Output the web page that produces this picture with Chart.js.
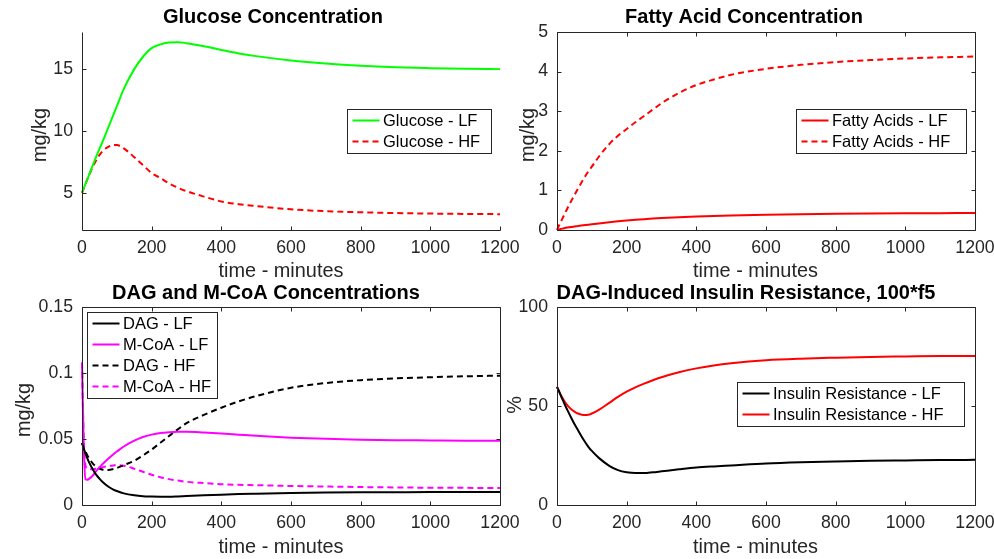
<!DOCTYPE html>
<html>
<head>
<meta charset="utf-8">
<script src="https://cdn.jsdelivr.net/npm/chart.js@4.4.0/dist/chart.umd.min.js"></script>
<style>
html,body{margin:0;padding:0;background:#fff;}
#wrap{position:relative;width:994px;height:559px;overflow:hidden;background:#fff;}
#wrap canvas{position:absolute;left:0;top:0;}
</style>
</head>
<body>
<div id="wrap">
<canvas id="c1" width="994" height="559"></canvas>
<canvas id="c2" width="994" height="559"></canvas>
<canvas id="c3" width="994" height="559"></canvas>
<canvas id="c4" width="994" height="559"></canvas>
</div>
<script>
// ---------- data ----------
const timeMin = [0,5,10,15,20,30,40,50,60,75,90,100,120,150,175,200,225,250,275,300,350,400,450,500,600,700,800,900,1000,1100,1200];

const glucoseLF = [5.0,5.36,5.72,6.08,6.44,7.16,7.87,8.55,9.2,10.25,11.3,12.0,13.4,15.0,16.0,16.7,17.0,17.15,17.18,17.1,16.85,16.55,16.27,16.05,15.7,15.45,15.27,15.15,15.08,15.03,15.0];
const glucoseHF = [5.0,5.36,5.72,6.08,6.42,7.05,7.6,8.05,8.4,8.72,8.87,8.86,8.6,7.88,7.24,6.6,6.2,5.76,5.42,5.14,4.7,4.31,4.08,3.93,3.67,3.52,3.43,3.37,3.33,3.3,3.28];

const fattyLF = [0,0.012,0.024,0.035,0.045,0.062,0.076,0.088,0.1,0.118,0.135,0.146,0.167,0.197,0.22,0.24,0.258,0.274,0.288,0.3,0.322,0.34,0.355,0.367,0.386,0.4,0.41,0.417,0.422,0.426,0.43];
const fattyHF = [0,0.1,0.19,0.28,0.37,0.55,0.72,0.88,1.04,1.27,1.48,1.6,1.85,2.17,2.38,2.55,2.72,2.88,3.04,3.2,3.46,3.66,3.8,3.92,4.07,4.17,4.24,4.29,4.33,4.36,4.38];

const dagLF = [0.047,0.043,0.039,0.0355,0.0325,0.0275,0.0232,0.02,0.0172,0.014,0.0117,0.0106,0.0088,0.0073,0.0066,0.0064,0.0063,0.0063,0.0065,0.0068,0.0073,0.0078,0.0083,0.0086,0.0091,0.0094,0.0096,0.0097,0.0098,0.0098,0.0098];
const mcoaLF = [0.108,0.045,0.0195,0.0191,0.0198,0.022,0.0255,0.0285,0.0312,0.035,0.0385,0.0405,0.0443,0.0487,0.0515,0.0533,0.0545,0.0551,0.0554,0.0554,0.0549,0.0542,0.0533,0.0524,0.051,0.0501,0.0495,0.0491,0.0489,0.0487,0.0486];
const dagHF = [0.047,0.0435,0.0405,0.0378,0.0355,0.0318,0.0292,0.0275,0.0267,0.0265,0.0272,0.028,0.0302,0.0335,0.0375,0.042,0.0472,0.0523,0.0573,0.062,0.0683,0.0737,0.0785,0.0825,0.0888,0.0924,0.0946,0.0959,0.0968,0.0975,0.098];
const mcoaHF = [0.108,0.05,0.03,0.0275,0.027,0.027,0.0275,0.028,0.0287,0.0295,0.03,0.0302,0.0298,0.0275,0.0252,0.0229,0.021,0.0196,0.0185,0.0176,0.0166,0.0158,0.0153,0.015,0.0144,0.014,0.0136,0.0133,0.0131,0.013,0.0128];

const insulinLF = [59.7,57.7,55.6,53.6,51.6,47.9,44.3,40.9,37.9,33.3,29.4,27.3,23.8,19.8,17.6,16.5,16.1,16.1,16.5,17.0,18.0,18.9,19.5,20.0,21.0,21.6,22.0,22.3,22.5,22.7,22.8];
const insulinHF = [59.7,57.8,56.0,54.3,52.8,50.3,48.5,47.2,46.2,45.5,45.6,46.2,48.0,51.6,54.6,57.2,59.4,61.3,63.0,64.5,67.0,69.0,70.5,71.6,73.1,73.9,74.4,74.8,75.0,75.2,75.3];

// tick labels
const timeTicks = [0,200,400,600,800,1000,1200];
const glucoseTicks = [5,10,15];
const fattyTicks = [0,1,2,3,4,5];
const dagTicks = [0,0.05,0.1,0.15];
const insulinTicks = [0,50,100];

// ---------- styling ----------
const FONT = '"Liberation Sans", Arial, Helvetica, sans-serif';
const AX = '#262626';
const TICK_LEN = 4;
const decorCfg = {};

function series(label, values, color, dashed) {
  return {
    label: label,
    data: timeMin.map((t, i) => ({x: t, y: values[i]})),
    borderColor: color,
    backgroundColor: color,
    borderWidth: 2,
    borderDash: dashed ? [6, 4] : [],
    pointRadius: 0,
    cubicInterpolationMode: 'monotone',
    fill: false,
    clip: 4
  };
}

const decorPlugin = {
  id: 'decor',
  afterDraw(chart) {
    const d = decorCfg[chart.canvas.id];
    if (!d) return;
    const ctx = chart.ctx, a = chart.chartArea, xs = chart.scales.x, ys = chart.scales.y;
    ctx.save();
    const L = Math.round(a.left) + 0.5, R = Math.round(a.right) + 0.5;
    const T = Math.round(a.top) + 0.5, B = Math.round(a.bottom) + 0.5;
    ctx.strokeStyle = AX; ctx.lineWidth = 1; ctx.setLineDash([]);
    ctx.beginPath();
    if (d.box) {
      ctx.rect(L, T, R - L, B - T);
    } else {
      ctx.moveTo(L, T); ctx.lineTo(L, B); ctx.lineTo(R, B);
    }
    ctx.stroke();
    // inward ticks
    ctx.beginPath();
    xs.ticks.forEach(t => {
      const px = Math.round(xs.getPixelForValue(t.value)) + 0.5;
      ctx.moveTo(px, B); ctx.lineTo(px, B - TICK_LEN);
      if (d.box) { ctx.moveTo(px, T); ctx.lineTo(px, T + TICK_LEN); }
    });
    ys.ticks.forEach(t => {
      const py = Math.round(ys.getPixelForValue(t.value)) + 0.5;
      ctx.moveTo(L, py); ctx.lineTo(L + TICK_LEN, py);
      if (d.box) { ctx.moveTo(R, py); ctx.lineTo(R - TICK_LEN, py); }
    });
    ctx.stroke();
    // title
    ctx.fillStyle = '#000';
    ctx.font = 'bold 20px ' + FONT;
    ctx.textAlign = 'center'; ctx.textBaseline = 'alphabetic';
    ctx.fillText(d.title, d.titleX, d.titleY);
    // x label
    ctx.fillStyle = AX;
    ctx.font = '19.9px ' + FONT;
    ctx.fillText('time - minutes', d.xlabelX, d.xlabelY);
    // y label
    ctx.save();
    ctx.translate(d.ylabelX, d.ylabelY);
    ctx.rotate(-Math.PI / 2);
    ctx.fillText(d.ylabel, 0, 0);
    ctx.restore();
    // legend
    const lg = d.legend;
    const n = chart.data.datasets.length;
    const h = 23 + (n - 1) * 21;
    ctx.fillStyle = '#fff';
    ctx.fillRect(lg.x, lg.y, lg.w, h);
    ctx.strokeStyle = AX; ctx.lineWidth = 1;
    ctx.strokeRect(Math.round(lg.x) + 0.5, Math.round(lg.y) + 0.5, lg.w, h);
    chart.data.datasets.forEach((ds, i) => {
      const y = lg.y + 11.5 + i * 21;
      ctx.strokeStyle = ds.borderColor; ctx.lineWidth = 2;
      ctx.setLineDash(ds.borderDash || []);
      ctx.beginPath(); ctx.moveTo(lg.x + 5.5, y); ctx.lineTo(lg.x + 32.5, y); ctx.stroke();
      ctx.setLineDash([]);
      ctx.fillStyle = '#000';
      ctx.font = '16.5px ' + FONT;
      ctx.textAlign = 'left'; ctx.textBaseline = 'middle';
      ctx.fillText(ds.label, lg.x + 36, y + 0.5);
    });
    ctx.restore();
  }
};

function makeChart(id, datasets, yMin, yMax, yTicks, yWidth, padding) {
  return new Chart(document.getElementById(id), {
    type: 'line',
    data: { datasets: datasets },
    options: {
      responsive: false,
      animation: false,
      devicePixelRatio: 1,
      events: [],
      layout: { autoPadding: false, padding: padding },
      plugins: { legend: { display: false }, tooltip: { enabled: false }, title: { display: false } },
      scales: {
        x: {
          type: 'linear', min: 0, max: 1200,
          border: { display: false },
          grid: { display: false, drawTicks: false },
          ticks: { padding: 7.5, color: AX, font: { family: FONT, size: 17.7 }, maxRotation: 0, autoSkip: false,
                   callback: v => String(v) },
          afterBuildTicks: s => { s.ticks = timeTicks.map(v => ({ value: v })); },
          afterFit: s => { s.height = 40; s.paddingLeft = 0; s.paddingRight = 0; }
        },
        y: {
          type: 'linear', min: yMin, max: yMax,
          border: { display: false },
          grid: { display: false, drawTicks: false },
          ticks: { padding: 9, color: AX, font: { family: FONT, size: 17.7 }, autoSkip: false,
                   callback: v => String(v) },
          afterBuildTicks: s => { s.ticks = yTicks.map(v => ({ value: v })); },
          afterFit: s => { s.width = yWidth; s.paddingTop = 0; s.paddingBottom = 0; }
        }
      }
    },
    plugins: [decorPlugin]
  });
}

decorCfg.c1 = { box: false, title: 'Glucose Concentration', titleX: 273, titleY: 23,
  xlabelX: 281, xlabelY: 277, ylabel: 'mg/kg', ylabelX: 46, ylabelY: 135,
  legend: { x: 347, y: 109, w: 144 } };
decorCfg.c2 = { box: true, title: 'Fatty Acid Concentration', titleX: 744, titleY: 23,
  xlabelX: 755.5, xlabelY: 277, ylabel: 'mg/kg', ylabelX: 534, ylabelY: 135,
  legend: { x: 796, y: 109, w: 170 } };
decorCfg.c3 = { box: true, title: 'DAG and M-CoA Concentrations', titleX: 266, titleY: 299,
  xlabelX: 281, xlabelY: 552.7, ylabel: 'mg/kg', ylabelX: 29.5, ylabelY: 410,
  legend: { x: 87, y: 312, w: 130 } };
decorCfg.c4 = { box: true, title: 'DAG-Induced Insulin Resistance, 100*f5', titleX: 746, titleY: 299,
  xlabelX: 755.5, xlabelY: 552.7, ylabel: '%', ylabelX: 521, ylabelY: 405,
  legend: { x: 737, y: 382, w: 227 } };

makeChart('c1', [
  series('Glucose - LF', glucoseLF, '#00ff00', false),
  series('Glucose - HF', glucoseHF, '#ff0000', true)
], 2, 18, glucoseTicks, 82, { left: 0, right: 494, top: 32, bottom: 289 });

makeChart('c2', [
  series('Fatty Acids - LF', fattyLF, '#ff0000', false),
  series('Fatty Acids - HF', fattyHF, '#ff0000', true)
], 0, 5, fattyTicks, 52, { left: 505, right: 19, top: 32, bottom: 289 });

makeChart('c3', [
  series('DAG - LF', dagLF, '#000000', false),
  series('M-CoA - LF', mcoaLF, '#ff00ff', false),
  series('DAG - HF', dagHF, '#000000', true),
  series('M-CoA - HF', mcoaHF, '#ff00ff', true)
], 0, 0.15, dagTicks, 82, { left: 0, right: 494, top: 307, bottom: 14 });

makeChart('c4', [
  series('Insulin Resistance - LF', insulinLF, '#000000', false),
  series('Insulin Resistance - HF', insulinHF, '#ff0000', false)
], 0, 100, insulinTicks, 52, { left: 505, right: 19, top: 307, bottom: 14 });
</script>
</body>
</html>
